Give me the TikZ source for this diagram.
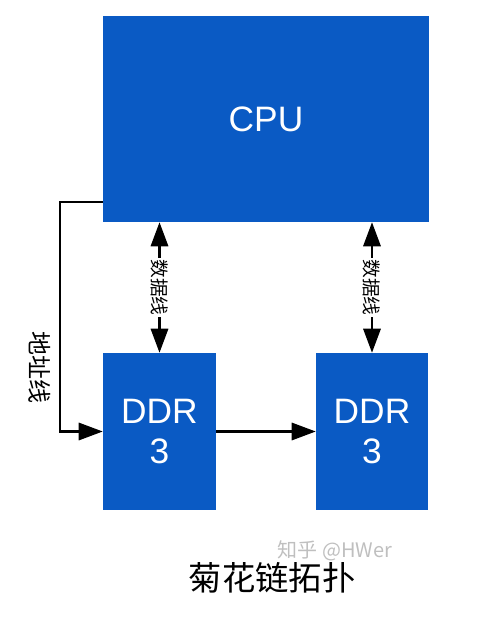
\documentclass[tikz,border=0pt]{standalone}
\usepackage{fontspec}
\setmainfont{Liberation Sans}
\newfontfamily\cjk{Noto Sans CJK SC}
\usetikzlibrary{arrows.meta,calc}
\definecolor{boxblue}{HTML}{0A5AC4}
\begin{document}
\begin{tikzpicture}[x=0.75pt,y=-0.75pt,
  box/.style={fill=boxblue,draw=none,text=white,font=\fontsize{26.5}{30}\selectfont,align=center,inner sep=0pt},
  conn/.style={line width=1.6pt,-{Triangle[length=18pt,width=13pt]}},
  dbl/.style={line width=1.6pt,{Triangle[length=18pt,width=13pt]}-{Triangle[length=18pt,width=13pt]}},
  lbl/.style={fill=white,inner sep=1pt,rotate=-90,font=\cjk\fontsize{14}{16}\selectfont},
  sidelbl/.style={rotate=-90,font=\cjk\fontsize{18}{20}\selectfont}]
\useasboundingbox (0,0) rectangle (488,617);
\node[box,minimum width=244.5pt,minimum height=154.5pt] (cpu) at (266,119) {CPU};
\node[box,minimum width=84.75pt,minimum height=117.75pt] (ddr1) at (159.5,431.5) {DDR\\3};
\node[box,minimum width=84pt,minimum height=117.75pt] (ddr2) at (372,431.5) {DDR\\3};
\coordinate (a1) at (60,202);
\draw[conn] (cpu.west |- a1) -- (a1) |- (ddr1.west);
\node[sidelbl] (addr) at (40,367) {地址线};
\draw[dbl] (cpu.south -| ddr1.center) -- node[lbl] (d1) {数据线} (ddr1.north);
\draw[dbl] (cpu.south -| ddr2.center) -- node[lbl] (d2) {数据线} (ddr2.north);
\draw[conn] (ddr1.east) -- (ddr2.west);
\node[font=\cjk\fontsize{15}{18}\selectfont,text=black!25] (wm) at (335,551) {知乎 @HWer};
\node[font=\cjk\fontsize{25}{30}\selectfont] (title) at (272,578) {菊花链拓扑};
\end{tikzpicture}
\end{document}
